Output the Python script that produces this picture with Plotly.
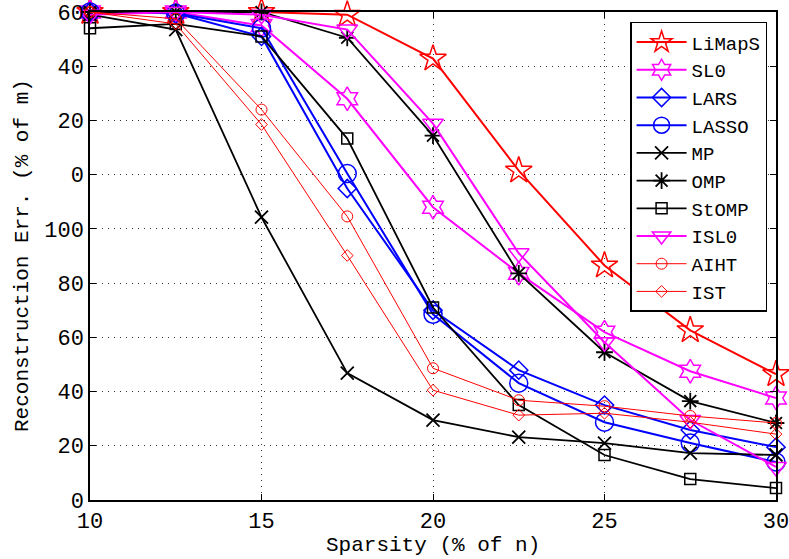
import plotly.graph_objects as go

sparsity = [10, 12.5, 15, 17.5, 20, 22.5, 25, 27.5, 30]

limaps = [180, 180, 180, 179, 162.8, 121.5, 86.5, 62.6, 46.4]
sl0 = [180, 180, 175, 148, 108, 83.6, 61.9, 47.5, 37.6]
lars = [180, 179.5, 171, 114.9, 70, 47.9, 35, 25.8, 19.5]
lasso = [180, 179.5, 174, 120.4, 68.5, 43.1, 28.7, 21, 14]
mp = [179, 173.5, 104.3, 46.8, 29.5, 23.2, 21, 17.3, 16.6]
omp = [180, 180, 180, 170.5, 134.4, 83.6, 54.5, 36.5, 28.4]
stomp = [174, 175.6, 171, 133.3, 71, 35, 16.6, 7.7, 4.4]
isl0 = [179, 180, 179, 173.5, 138.8, 91, 58.2, 29.5, 12.2]
aiht = [180, 177.5, 144, 104.6, 48.6, 36.8, 34.6, 31, 28.4]
ist = [180, 175.6, 138.5, 90.2, 40.5, 31.3, 32, 28.7, 24.3]

y_tickvals = [0, 20, 40, 60, 80, 100, 120, 140, 160, 180]
y_ticktext = ["0", "20", "40", "60", "80", "100", "0", "20", "40", "60"]
x_tickvals = [10, 15, 20, 25, 30]

x_title = "Sparsity (% of n)"
y_title = "Reconstruction Err. (% of m)"

series = [
    ("LiMapS", limaps, "#FF0000", "star-open", 20, 2, 1.5),
    ("SL0", sl0, "#FF00FF", "hexagram-open", 18, 2, 1.5),
    ("LARS", lars, "#0000FF", "diamond-open", 14, 2, 1.5),
    ("LASSO", lasso, "#0000FF", "circle-open", 18, 2, 1.5),
    ("MP", mp, "#000000", "x-thin-open", 13, 1.8, 1.8),
    ("OMP", omp, "#000000", "asterisk-open", 14, 1.8, 1.8),
    ("StOMP", stomp, "#000000", "square-open", 11, 1.8, 1.5),
    ("ISL0", isl0, "#FF00FF", "triangle-down-open", 18, 2, 1.5),
    ("AIHT", aiht, "#FF0000", "circle-open", 11, 1, 1),
    ("IST", ist, "#FF0000", "diamond-open", 9, 1, 1),
]

fig = go.Figure()
for name, vals, color, sym, size, lw, mlw in series:
    fig.add_trace(go.Scatter(
        x=sparsity, y=vals, name=name, mode="lines+markers",
        line=dict(color=color, width=lw),
        marker=dict(symbol=sym, size=size, color=color,
                    line=dict(color=color, width=mlw)),
        cliponaxis=False,
    ))

font_family = "Liberation Mono, Courier New, monospace"
fig.update_layout(
    width=789, height=559,
    margin=dict(l=90, r=13, t=12, b=59, autoexpand=False),
    paper_bgcolor="white", plot_bgcolor="white",
    font=dict(family=font_family, size=22, color="#000000"),
    showlegend=True,
    legend=dict(
        x=0.987, y=0.98, xanchor="right", yanchor="top",
        bgcolor="white", bordercolor="#000000", borderwidth=1.5,
        font=dict(family=font_family, size=19, color="#000000"),
        itemwidth=50, tracegroupgap=0,
    ),
    xaxis=dict(
        range=[10, 30], tickvals=x_tickvals, automargin=False,
        ticklabeloverflow="allow",
        ticks="inside", ticklen=6, tickcolor="#000000",
        showline=True, linecolor="#000000", linewidth=1.5, mirror="ticks",
        showgrid=True, gridcolor="#333333", griddash="1px,5px", gridwidth=1,
        zeroline=False,
        tickfont=dict(family=font_family, size=22),
    ),
    yaxis=dict(
        range=[0, 180], tickvals=y_tickvals, ticktext=y_ticktext, automargin=False,
        ticklabeloverflow="allow",
        ticks="inside", ticklen=6, tickcolor="#000000",
        showline=True, linecolor="#000000", linewidth=1.5, mirror="ticks",
        showgrid=True, gridcolor="#333333", griddash="1px,5px", gridwidth=1,
        zeroline=False,
        tickfont=dict(family=font_family, size=22),
    ),
    annotations=[
        dict(text=x_title, xref="paper", yref="paper", x=0.5, y=0,
             xanchor="center", yanchor="middle", yshift=-45, showarrow=False,
             font=dict(family=font_family, size=21)),
        dict(text=y_title, xref="paper", yref="paper", x=0, y=0.5,
             xanchor="center", yanchor="middle", xshift=-68, textangle=-90,
             showarrow=False, font=dict(family=font_family, size=21)),
    ],
)

fig.write_html("out.html")
